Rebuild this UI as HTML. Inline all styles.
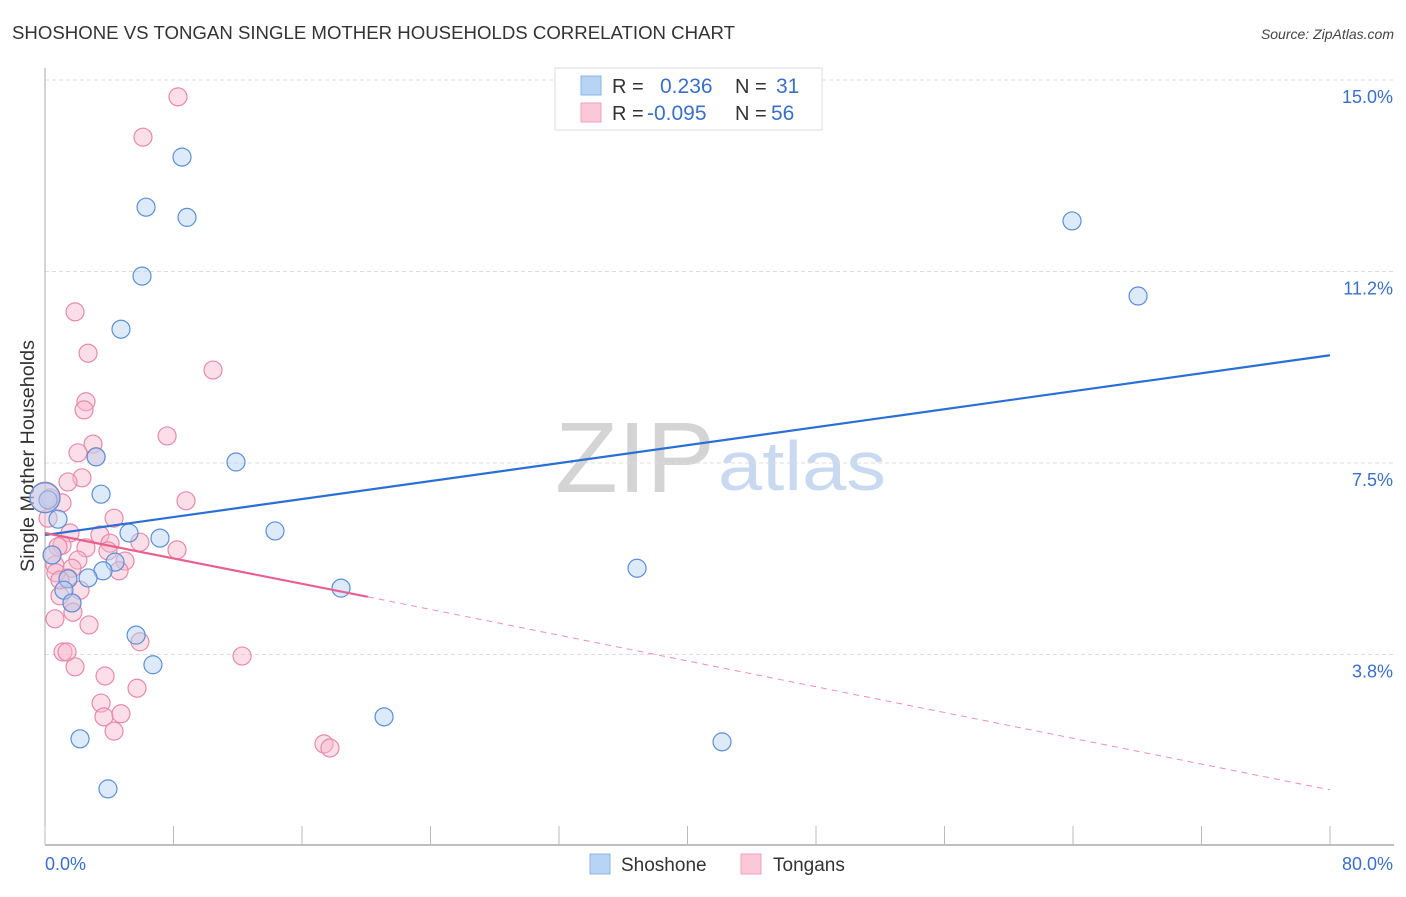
<!DOCTYPE html>
<html><head><meta charset="utf-8"><style>
body{margin:0;background:#fff;font-family:"Liberation Sans",sans-serif;}
svg text{font-family:"Liberation Sans",sans-serif;}
</style></head><body>
<svg id="chart" width="1406" height="892" xmlns="http://www.w3.org/2000/svg">
<text x="12" y="39" font-size="18" fill="#333" textLength="723" lengthAdjust="spacingAndGlyphs">SHOSHONE VS TONGAN SINGLE MOTHER HOUSEHOLDS CORRELATION CHART</text>
<text x="1394" y="39" font-size="14" fill="#444" text-anchor="end" font-style="italic">Source: ZipAtlas.com</text>
<text transform="translate(34,456) rotate(-90)" font-size="19" fill="#333" text-anchor="middle" textLength="232" lengthAdjust="spacingAndGlyphs">Single Mother Households</text>
<text x="555" y="492" font-size="100" fill="#d4d4d4" font-family="Liberation Serif" textLength="160" lengthAdjust="spacingAndGlyphs">ZIP</text>
<text x="718" y="490" font-size="70" fill="#c9d9f0" textLength="168" lengthAdjust="spacingAndGlyphs">atlas</text>
<g id="grid"></g><g id="axes"></g><g id="marks"></g>
<g>
<rect x="555" y="68" width="267" height="62" fill="#fff" stroke="#ddd"/>
<rect x="581" y="76" width="20" height="19" fill="#b8d4f5" stroke="#8ab4e8"/>
<text x="612" y="93" font-size="20" fill="#333">R =</text><text x="660" y="93" font-size="21" fill="#3a6fc9">0.236</text>
<text x="735" y="93" font-size="20" fill="#333">N =</text><text x="776" y="93" font-size="21" fill="#3a6fc9">31</text>
<rect x="581" y="103" width="20" height="19" fill="#fbc8d8" stroke="#f0a0b8"/>
<text x="612" y="120" font-size="20" fill="#333">R =</text><text x="647" y="120" font-size="21" fill="#3a6fc9">-0.095</text>
<text x="735" y="120" font-size="20" fill="#333">N =</text><text x="771" y="120" font-size="21" fill="#3a6fc9">56</text>
</g>
<g>
<rect x="590" y="854" width="20" height="20" fill="#b8d4f5" stroke="#8ab4e8"/>
<text x="621" y="871" font-size="19" fill="#333">Shoshone</text>
<rect x="741" y="854" width="20" height="20" fill="#fbc8d8" stroke="#f0a0b8"/>
<text x="773" y="871" font-size="19" fill="#333">Tongans</text>
</g>
</svg>
<script>
const yTicks=[15.0,11.25,7.5,3.75];
const yTickLabels=["15.0%","11.2%","7.5%","3.8%"];
const xTicks=[0,8,16,24,32,40,48,56,64,72,80];
const shoshoneX=[8.53,6.29,8.84,6.04,4.73,3.18,11.89,3.49,0.81,14.32,5.23,7.16,4.36,3.61,2.68,1.43,18.43,1.18,1.68,36.86,5.67,6.72,21.11,2.18,42.15,3.92,63.94,68.05,0.19,0.44,0];
const shoshoneY=[13.49,12.51,12.31,11.16,10.12,7.62,7.52,6.89,6.40,6.17,6.13,6.03,5.56,5.39,5.25,5.23,5.05,5.01,4.76,5.44,4.13,3.55,2.53,2.10,2.04,1.12,12.24,10.77,6.78,5.70,6.82];
const tongansX=[8.28,6.10,1.87,2.68,10.46,2.55,2.43,7.60,2.99,3.18,2.05,2.30,1.43,8.78,1.06,0.31,4.30,1.56,3.42,4.05,1.06,5.91,2.55,3.92,8.22,0.81,2.05,4.98,0.62,4.61,1.68,1.43,0.68,2.18,0.93,1.68,1.74,0.62,2.74,5.91,12.27,1.12,1.37,1.87,3.74,5.73,3.49,3.67,4.73,4.30,17.37,17.74,0.19,0,0.44,0.93];
const tongansY=[14.67,13.88,10.46,9.65,9.32,8.70,8.54,8.03,7.87,7.62,7.70,7.21,7.13,6.76,6.72,6.82,6.42,6.13,6.09,5.93,5.89,5.95,5.84,5.78,5.80,5.86,5.60,5.58,5.50,5.39,5.44,5.25,5.35,5.01,4.90,4.76,4.58,4.45,4.33,4.00,3.72,3.80,3.80,3.51,3.33,3.09,2.80,2.53,2.59,2.25,2.00,1.92,6.42,6.83,5.70,5.21];
const blueTrendX=[0,80];const blueTrendY=[6.09,9.61];
const pinkTrendX=[0,20.1,80];const pinkTrendY=[6.13,4.88,1.10];
const NS="http://www.w3.org/2000/svg";
const sx=v=>45+v*(1285/80);
const sy=v=>80+(15-v)*51.07;
function mk(tag,attrs,parent){const e=document.createElementNS(NS,tag);for(const k in attrs)e.setAttribute(k,attrs[k]);document.getElementById(parent).appendChild(e);return e;}
yTicks.forEach((t,i)=>{
 const l=mk('line',{x1:45,x2:1394,y1:sy(t),y2:sy(t),stroke:'#ddd','stroke-dasharray':'4,3'},'grid');
 
 
 const tx=mk('text',{x:1393,y:sy(t)+23,'font-size':18,fill:'#3a6fc9','text-anchor':'end'},'grid');
 tx.textContent=yTickLabels[i];
 
 
});
const ax=mk('line',{x1:45,x2:45,y1:68,y2:845,stroke:'#aaa'},'axes');


const bx=mk('line',{x1:45,x2:1394,y1:845,y2:845,stroke:'#aaa','stroke-width':1.5},'axes');


xTicks.forEach(t=>{
 const l=mk('line',{x1:sx(t),x2:sx(t),y1:826,y2:845,stroke:'#bbb'},'axes');
 
 
});
const xl0=mk('text',{x:45,y:870,'font-size':18,fill:'#3a6fc9'},'axes');xl0.textContent='0.0%';


const xl1=mk('text',{x:1393,y:870,'font-size':18,fill:'#3a6fc9','text-anchor':'end'},'axes');xl1.textContent='80.0%';


function dots(xs,ys,fill,stroke,name){xs.forEach((x,i)=>{
 const r=(x===0)?15:9;
 const c=mk('circle',{cx:sx(x),cy:sy(ys[i]),r:r,fill:fill,'fill-opacity':0.45,stroke:stroke,'stroke-width':1.2},'marks');
 
 
});}
dots(tongansX,tongansY,'#f7b6cb','#e88aa8','tongans-point');
dots(shoshoneX,shoshoneY,'#b3d0f2','#5b8fd8','shoshone-point');
const bl=mk('line',{x1:sx(blueTrendX[0]),y1:sy(blueTrendY[0]),x2:sx(blueTrendX[1]),y2:sy(blueTrendY[1]),stroke:'#2a6fd6','stroke-width':2.2},'marks');


const pl=mk('line',{x1:sx(pinkTrendX[0]),y1:sy(pinkTrendY[0]),x2:sx(pinkTrendX[1]),y2:sy(pinkTrendY[1]),stroke:'#e8608f','stroke-width':2.2},'marks');


const pd=mk('line',{x1:sx(pinkTrendX[1]),y1:sy(pinkTrendY[1]),x2:sx(pinkTrendX[2]),y2:sy(pinkTrendY[2]),stroke:'#e8608f','stroke-width':1,'stroke-dasharray':'6,5','stroke-opacity':0.7},'marks');


</script>
</body></html>
